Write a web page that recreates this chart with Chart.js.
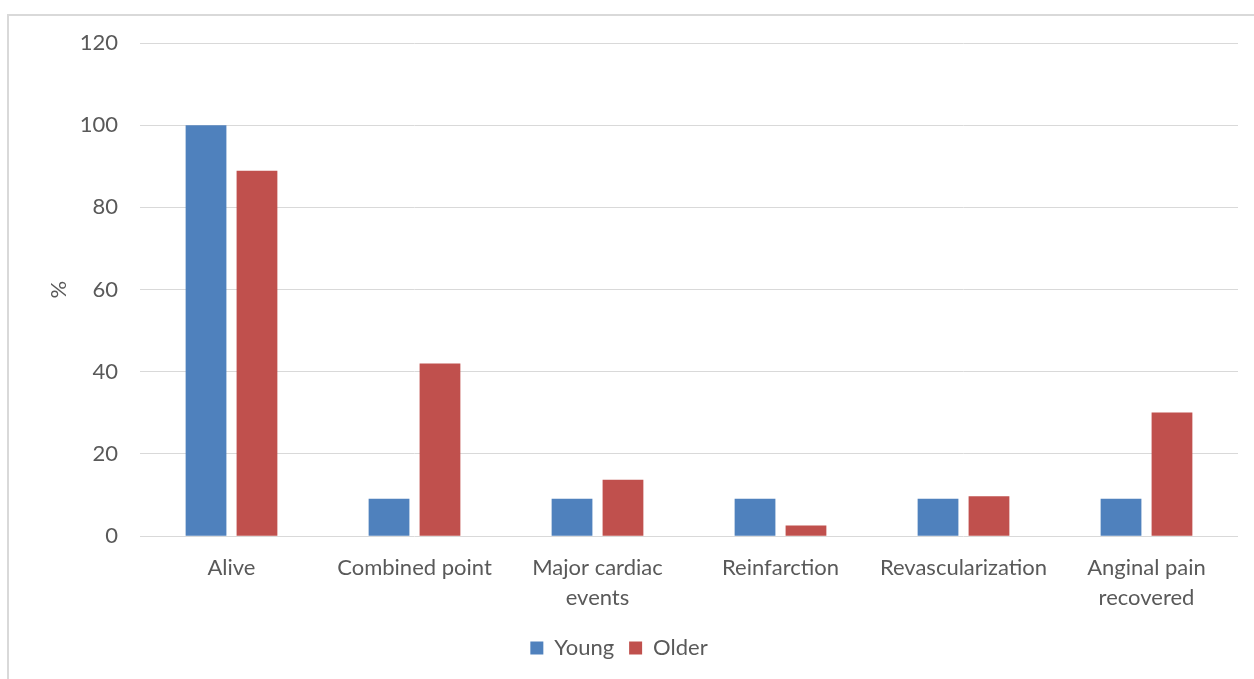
<!DOCTYPE html>
<html>
<head>
<meta charset="utf-8">
<script src="https://cdn.jsdelivr.net/npm/chart.js@4/dist/chart.umd.min.js"></script>
<style>
  html, body { margin: 0; padding: 0; background: #fff; }
  #wrap { position: relative; width: 1254px; height: 679px; }
  #frame { position: absolute; left: 7px; top: 14px; width: 1260px; height: 700px;
           border-left: 2px solid #d9d9d9; border-top: 2px solid #d9d9d9; box-sizing: border-box; }
  #chart { position: absolute; left: 0; top: 0; }
</style>
</head>
<body>
<div id="wrap">
  <div id="frame"></div>
  <canvas id="chart" width="1254" height="679"></canvas>
</div>
<script>
// values
var categories = ['Alive', 'Combined point', ['Major cardiac', 'events'], 'Reinfarction', 'Revascularization', ['Anginal pain', 'recovered']];
var young = [100, 9.1, 9.1, 9.1, 9.1, 9.1];
var older = [88.9, 42, 13.7, 2.6, 9.7, 30.1];
var yTicks = [0, 20, 40, 60, 80, 100, 120];

var txt = '#595959';
var fam = 'Lato, "Open Sans", sans-serif';

var chartObj = new Chart(document.getElementById('chart'), {
  type: 'bar',
  data: {
    labels: categories,
    datasets: [
      { label: 'Young', data: young, backgroundColor: '#4f81bd' },
      { label: 'Older', data: older, backgroundColor: '#c0504d' }
    ]
  },
  options: {
    responsive: false,
    animation: false,
    layout: { padding: { left: 0, right: 16, top: 43, bottom: 10 } },
    datasets: { bar: { categoryPercentage: 0.557, barPercentage: 0.8 } },
    plugins: {
      legend: {
        position: 'bottom',
        labels: { boxWidth: 13, boxHeight: 13, padding: 15, color: txt, font: { family: fam, size: 22 } }
      },
      tooltip: { enabled: false }
    },
    scales: {
      x: {
        grid: { display: false },
        border: { display: false },
        ticks: { color: txt, padding: 9, maxRotation: 0, autoSkip: false, font: { family: fam, size: 22, lineHeight: 1.36 } }
      },
      y: {
        min: 0, max: 120,
        afterBuildTicks: function (s) { s.ticks = yTicks.map(function (v) { return { value: v }; }); },
        afterFit: function (s) { s.width = 140; },
        grid: { color: '#d9d9d9', drawTicks: false },
        border: { display: false },
        ticks: { color: txt, padding: 22, font: { family: fam, size: 22 } },
        title: { display: true, text: '%', color: txt, padding: { top: 46 }, font: { family: fam, size: 22 } }
      }
    }
  }
});
</script>
</body>
</html>
